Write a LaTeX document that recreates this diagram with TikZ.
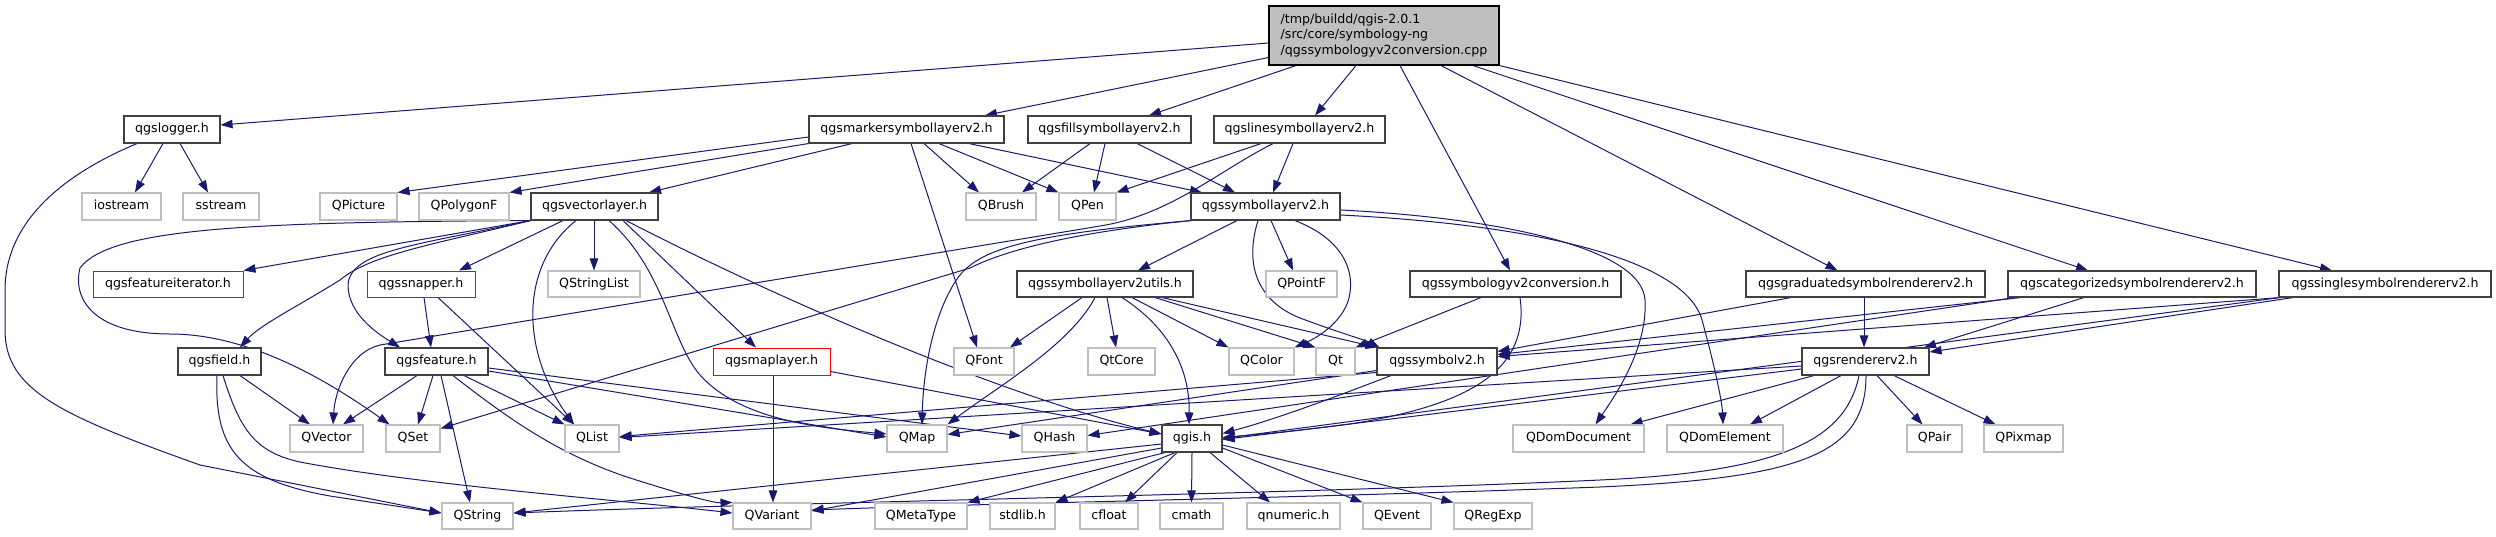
\documentclass[tikz,border=0pt]{standalone}
\usepackage{fontspec}
\setmainfont{DejaVu Sans}
\usetikzlibrary{arrows.meta}
\definecolor{edgec}{HTML}{191970}
\definecolor{docb}{HTML}{404040}
\definecolor{extb}{HTML}{BFBFBF}
\definecolor{rootf}{HTML}{BFBFBF}
\pgfdeclarelayer{bg}
\pgfsetlayers{bg,main}
\tikzset{
  bx/.style={draw=docb, line width=1.1pt, fill=white, inner sep=0pt, minimum height=27pt,
    text height=9.2pt, text depth=2.9pt, font=\fontsize{12.6}{15}\selectfont},
  ext/.style={bx, draw=extb},
  und/.style={bx, draw=red, line width=1pt},
  e/.style={draw=edgec, line width=1pt, -{Triangle[length=12pt,width=8.5pt]}},
}
\begin{document}
\begin{tikzpicture}[x=1pt,y=-1pt]
\useasboundingbox (0,0) rectangle (2496,536);
% row 0
\node[draw=black, line width=1.1pt, fill=rootf, inner sep=0pt, minimum width=230pt, minimum height=59pt,
  align=left, font=\fontsize{12.6}{15.5}\selectfont] (root) at (1384,35.5)
  {/tmp/buildd/qgis-2.0.1\\/src/core/symbology-ng\\/qgssymbologyv2conversion.cpp};
% row 1
\node[bx, minimum width=96pt] (logger) at (172,129.5) {qgslogger.h};
\node[bx, minimum width=195pt] (marker) at (906.5,129.5) {qgsmarkersymbollayerv2.h};
\node[bx, minimum width=163pt] (fill) at (1109.5,129.5) {qgsfillsymbollayerv2.h};
\node[bx, minimum width=171pt] (line) at (1299.5,129.5) {qgslinesymbollayerv2.h};
% row 2
\node[ext, minimum width=79pt] (iostream) at (121.5,206.5) {iostream};
\node[ext, minimum width=76pt] (sstream) at (221,206.5) {sstream};
\node[ext, minimum width=77pt] (QPicture) at (358.5,206.5) {QPicture};
\node[ext, minimum width=90pt] (QPolygonF) at (464,206.5) {QPolygonF};
\node[bx, minimum width=127pt] (vlayer) at (594.5,206.5) {qgsvectorlayer.h};
\node[ext, minimum width=70pt] (QBrush) at (1001,206.5) {QBrush};
\node[ext, minimum width=57pt] (QPen) at (1087.5,206.5) {QPen};
\node[bx, minimum width=149pt] (symlayer) at (1265.5,206.5) {qgssymbollayerv2.h};
% row 3
\node[und, minimum width=150pt, minimum height=26pt] (featit) at (168,284) {qgsfeatureiterator.h};
\node[und, minimum width=108pt, minimum height=26pt] (snapper) at (421,284) {qgssnapper.h};
\node[ext, minimum width=92pt, minimum height=26pt] (QStringList) at (594,284) {QStringList};
\node[bx, minimum width=176pt, minimum height=26pt] (utils) at (1105,284) {qgssymbollayerv2utils.h};
\node[ext, minimum width=71pt, minimum height=26pt] (QPointF) at (1301.5,284) {QPointF};
\node[bx, minimum width=211pt, minimum height=26pt] (convh) at (1515.5,284) {qgssymbologyv2conversion.h};
\node[bx, minimum width=239pt, minimum height=26pt] (grad) at (1865.5,284) {qgsgraduatedsymbolrendererv2.h};
\node[bx, minimum width=248pt, minimum height=26pt] (cat) at (2132,284) {qgscategorizedsymbolrendererv2.h};
\node[bx, minimum width=212pt, minimum height=26pt] (single) at (2385,284) {qgssinglesymbolrendererv2.h};
% row 4
\node[bx, minimum width=83pt] (field) at (219.5,361.5) {qgsfield.h};
\node[bx, minimum width=103pt] (feature) at (436.5,361.5) {qgsfeature.h};
\node[und, minimum width=117pt] (maplayer) at (771.5,361.5) {qgsmaplayer.h};
\node[ext, minimum width=60pt] (QFont) at (984,361.5) {QFont};
\node[ext, minimum width=67pt] (QtCore) at (1121.5,361.5) {QtCore};
\node[ext, minimum width=65pt] (QColor) at (1261.5,361.5) {QColor};
\node[ext, minimum width=39pt] (Qt) at (1335.5,361.5) {Qt};
\node[bx, minimum width=120pt] (symbolv2) at (1437,361.5) {qgssymbolv2.h};
\node[bx, minimum width=127pt] (renderer) at (1865.5,361.5) {qgsrendererv2.h};
% row 5
\node[ext, minimum width=73pt] (QVector) at (326.5,438.5) {QVector};
\node[ext, minimum width=54pt] (QSet) at (413,438.5) {QSet};
\node[ext, minimum width=54pt] (QList) at (592,438.5) {QList};
\node[ext, minimum width=60pt] (QMap) at (917,438.5) {QMap};
\node[ext, minimum width=65pt] (QHash) at (1054.5,438.5) {QHash};
\node[bx, minimum width=60pt] (qgis) at (1192,438.5) {qgis.h};
\node[ext, minimum width=131pt] (QDomDocument) at (1578.5,438.5) {QDomDocument};
\node[ext, minimum width=116pt] (QDomElement) at (1725,438.5) {QDomElement};
\node[ext, minimum width=55pt] (QPair) at (1934.5,438.5) {QPair};
\node[ext, minimum width=79pt] (QPixmap) at (2023.5,438.5) {QPixmap};
% row 6
\node[ext, minimum width=71pt, minimum height=26pt] (QString) at (477.5,516) {QString};
\node[ext, minimum width=78pt, minimum height=26pt] (QVariant) at (772,516) {QVariant};
\node[ext, minimum width=92pt, minimum height=26pt] (QMetaType) at (921,516) {QMetaType};
\node[ext, minimum width=65pt, minimum height=26pt] (stdlib) at (1022.5,516) {stdlib.h};
\node[ext, minimum width=58pt, minimum height=26pt] (cfloat) at (1109,516) {cfloat};
\node[ext, minimum width=63pt, minimum height=26pt] (cmath) at (1191.5,516) {cmath};
\node[ext, minimum width=93pt, minimum height=26pt] (qnumeric) at (1293.5,516) {qnumeric.h};
\node[ext, minimum width=68pt, minimum height=26pt] (QEvent) at (1397,516) {QEvent};
\node[ext, minimum width=78pt, minimum height=26pt] (QRegExp) at (1493,516) {QRegExp};

\begin{pgfonlayer}{bg}
% root
\draw[e] ([yshift=-7.5pt]root.west) -- ([yshift=4.5pt]logger.east);
\draw[e] ([yshift=-22pt]root.west) -- ([xshift=78.5pt]marker.north);
\draw[e] ([xshift=-88pt]root.south) -- ([xshift=39.5pt]fill.north);
\draw[e] ([xshift=-28pt]root.south) -- ([xshift=15.5pt]line.north);
\draw[e] ([xshift=16pt]root.south) -- ([xshift=-5.5pt]convh.north);
\draw[e] ([xshift=57pt]root.south) -- ([xshift=-28pt]grad.north);
\draw[e] ([xshift=89pt]root.south) -- ([xshift=-44pt]cat.north);
\draw[e] (root.south east) -- ([xshift=-53pt]single.north);
% logger
\draw[e] ([xshift=-9pt]logger.south) -- ([xshift=13.5pt]iostream.north);
\draw[e] ([xshift=8pt]logger.south) -- ([xshift=-13pt]sstream.north);
\draw[e] ([xshift=-35pt]logger.south) .. controls (50,180) and (5,230) .. (5,290) -- (5,330)
  .. controls (5,390) and (60,415) .. (200,465) -- ([yshift=3pt]QString.west);
% marker
\draw[e] ([yshift=-7.5pt]marker.west) -- (QPicture.north east);
\draw[e] (marker.south west) -- (QPolygonF.north east);
\draw[e] ([xshift=-54.5pt]marker.south) -- ([xshift=54.5pt]vlayer.north);
\draw[e] ([xshift=4.5pt]marker.south) -- ([xshift=-7pt]QFont.north);
\draw[e] ([xshift=17.5pt]marker.south) -- ([xshift=-22pt]QBrush.north);
\draw[e] ([xshift=32.5pt]marker.south) -- (QPen.north west);
\draw[e] ([xshift=62.5pt]marker.south) -- ([xshift=-63.5pt]symlayer.north);
% fill
\draw[e] ([xshift=-19.5pt]fill.south) -- ([xshift=21pt]QBrush.north);
\draw[e] ([xshift=-4.5pt]fill.south) -- ([xshift=6.5pt]QPen.north);
\draw[e] ([xshift=27.5pt]fill.south) -- ([xshift=-30.5pt]symlayer.north);
% line
\draw[e] ([xshift=-38.5pt]line.south) -- (QPen.north east);
\draw[e] ([xshift=-26.5pt]line.south) .. controls (1220,170) and (1170,215) .. (1100,226) -- (380,345)
  .. controls (350,352) and (335,390) .. ([xshift=6.5pt]QVector.north);
\draw[e] ([xshift=-6.5pt]line.south) -- ([xshift=7.5pt]symlayer.north);
% vlayer
\draw[e] (vlayer.south west) -- (featit.north east);
\draw[e] (vlayer.south west) .. controls (250,222) and (110,228) .. (80,268)
  .. controls (72,300) and (95,334) .. (170,334) .. controls (245,334) and (320,375) .. ([xshift=4pt]QSet.north west);
\draw[e] (vlayer.south west) .. controls (430,245) and (370,255) .. (340,280)
  .. controls (300,305) and (260,325) .. ([xshift=20.5pt]field.north);
\draw[e] (vlayer.south west) .. controls (420,245) and (350,250) .. (348,285)
  .. controls (348,315) and (380,335) .. ([xshift=-36.5pt]feature.north);
\draw[e] ([xshift=-31.5pt]vlayer.south) -- ([xshift=38pt]snapper.north);
\draw[e] ([xshift=-18.5pt]vlayer.south) .. controls (520,265) and (520,350) .. ([xshift=-18pt]QList.north);
\draw[e] ([xshift=-0.5pt]vlayer.south) -- (QStringList.north);
\draw[e] ([xshift=14.5pt]vlayer.south) .. controls (665,270) and (670,340) .. (700,375)
  .. controls (740,420) and (820,428) .. ([yshift=4.5pt]QMap.west);
\draw[e] ([xshift=28.5pt]vlayer.south) -- ([xshift=-15.5pt]maplayer.north);
\draw[e] ([xshift=31.5pt]vlayer.south) .. controls (780,300) and (1000,395) .. ([yshift=4.5pt]qgis.west);
% snapper
\draw[e] ([xshift=3pt]snapper.south) -- ([xshift=-5.5pt]feature.north);
\draw[e] ([xshift=17pt]snapper.south) -- ([xshift=-18pt]QList.north);
% field
\draw[e] ([xshift=20.5pt]field.south) -- ([xshift=-16.5pt]QVector.north);
\draw[e] ([xshift=-2.5pt]field.south) .. controls (214,450) and (240,480) .. (330,496) -- ([yshift=3pt]QString.west);
\draw[e] ([xshift=3.5pt]field.south) .. controls (240,430) and (255,452) .. (300,462)
  .. controls (420,485) and (620,500) .. ([yshift=3pt]QVariant.west);
% feature
\draw[e] ([xshift=-19.5pt]feature.south) -- ([xshift=16.5pt]QVector.north);
\draw[e] ([xshift=-3.5pt]feature.south) -- ([xshift=5pt]QSet.north);
\draw[e] ([xshift=4.5pt]feature.south) -- ([xshift=-7.5pt]QString.north);
\draw[e] ([xshift=16.5pt]feature.south) .. controls (510,420) and (560,455) .. (630,478)
  .. controls (690,497) and (715,503) .. (QVariant.north west);
\draw[e] ([xshift=27.5pt]feature.south) -- (QList.north west);
\draw[e] ([yshift=-6.5pt]feature.east) -- ([yshift=2.5pt]QHash.west);
\draw[e] ([yshift=-9.5pt]feature.east) -- ([yshift=1.5pt]QMap.west);
% maplayer
\draw[e] ([xshift=1.5pt]maplayer.south) -- ([xshift=1pt]QVariant.north);
\draw[e] ([yshift=-10pt]maplayer.east) -- ([yshift=4.5pt]qgis.west);
% symlayer
\draw[e] (symlayer.south west) .. controls (1080,232) and (1010,248) .. (970,268) -- ([yshift=10pt]QSet.east);
\draw[e] ([xshift=2pt]symlayer.south west) .. controls (1020,235) and (975,250) .. (955,282)
  .. controls (930,322) and (923,380) .. ([xshift=5pt]QMap.north);
\draw[e] ([xshift=-28.5pt]symlayer.south) -- ([xshift=33pt]utils.north);
\draw[e] ([xshift=-7.5pt]symlayer.south) .. controls (1245,262) and (1255,300) .. (1300,318)
  .. controls (1340,333) and (1365,340) .. ([xshift=3pt]symbolv2.north west);
\draw[e] ([xshift=5.5pt]symlayer.south) -- ([xshift=-8.5pt]QPointF.north);
\draw[e] ([xshift=29.5pt]symlayer.south) .. controls (1340,238) and (1356,268) .. (1349,298)
  .. controls (1342,325) and (1312,340) .. (QColor.north east);
\draw[e] ([yshift=-3.5pt]symlayer.east) .. controls (1500,218) and (1642,248) .. (1645,300)
  .. controls (1648,350) and (1612,400) .. ([xshift=17pt]QDomDocument.north);
\draw[e] ([yshift=-8.5pt]symlayer.east) .. controls (1540,225) and (1685,260) .. (1702,320)
  .. controls (1713,360) and (1722,400) .. ([xshift=-2pt]QDomElement.north);
% utils
\draw[e] ([xshift=-23pt]utils.south) -- ([xshift=26pt]QFont.north);
\draw[e] ([xshift=-10pt]utils.south) .. controls (1070,345) and (1000,385) .. (QMap.north east);
\draw[e] ([xshift=2pt]utils.south) -- ([xshift=-5.5pt]QtCore.north);
\draw[e] ([xshift=17pt]utils.south) .. controls (1165,325) and (1190,365) .. ([xshift=-3pt]qgis.north);
\draw[e] ([xshift=27pt]utils.south) -- (QColor.north west);
\draw[e] ([xshift=50pt]utils.south) -- (Qt.north west);
\draw[e] ([xshift=57pt]utils.south) -- ([xshift=1pt]symbolv2.north west);
% convh
\draw[e] ([xshift=-34.5pt]convh.south) -- (Qt.north east);
\draw[e] ([xshift=4.5pt]convh.south) .. controls (1530,370) and (1470,405) .. (1350,424)
  .. controls (1290,432) and (1250,435) .. ([yshift=1pt]qgis.east);
% grad
\draw[e] ([xshift=-74.5pt]grad.south) -- ([yshift=10pt]symbolv2.east);
\draw[e] ([xshift=-1.5pt]grad.south) -- ([xshift=-1.5pt]renderer.north);
% cat
\draw[e] ([xshift=-111pt]cat.south) -- ([yshift=7pt]symbolv2.east);
\draw[e] ([xshift=-117pt]cat.south) -- ([yshift=3pt]QHash.east);
\draw[e] ([xshift=-48pt]cat.south) -- ([xshift=58.5pt]renderer.north);
% single
\draw[e] ([xshift=-105pt]single.south) -- ([yshift=5pt]symbolv2.east);
\draw[e] ([xshift=-105pt]single.south) -- (qgis.east);
\draw[e] ([xshift=-92pt]single.south) -- ([yshift=9.5pt]renderer.east);
% symbolv2
\draw[e] ([yshift=-11pt]symbolv2.west) -- ([yshift=2pt]QList.east);
\draw[e] ([yshift=-9pt]symbolv2.west) -- ([yshift=4pt]QMap.east);
\draw[e] ([xshift=-46pt]symbolv2.south) .. controls (1340,395) and (1280,418) .. ([yshift=5pt]qgis.east);
% renderer
\draw[e] ([yshift=-4.5pt]renderer.west) -- ([yshift=1pt]QList.east);
\draw[e] ([yshift=-7.5pt]renderer.west) -- ([yshift=-1pt]qgis.east);
\draw[e] ([xshift=-51.5pt]renderer.south) -- ([xshift=52pt]QDomDocument.north);
\draw[e] ([xshift=-24.5pt]renderer.south) -- ([xshift=25pt]QDomElement.north);
\draw[e] ([xshift=-6.5pt]renderer.south) .. controls (1845,445) and (1770,472) .. (1600,480)
  .. controls (1300,494) and (800,502) .. ([yshift=3pt]QString.east);
\draw[e] ([xshift=0.5pt]renderer.south) .. controls (1866,455) and (1800,478) .. (1600,487)
  .. controls (1300,498) and (1000,503) .. ([yshift=6pt]QVariant.east);
\draw[e] ([xshift=11.5pt]renderer.south) -- ([xshift=-12pt]QPair.north);
\draw[e] ([xshift=28.5pt]renderer.south) -- ([xshift=-28pt]QPixmap.north);
% qgis
\draw[e] ([yshift=-5.5pt]qgis.west) -- ([yshift=3pt]QString.east);
\draw[e] ([yshift=-9.5pt]qgis.west) -- ([yshift=5pt]QVariant.east);
\draw[e] ([xshift=-27pt]qgis.south) -- (QMetaType.north east);
\draw[e] ([xshift=-17pt]qgis.south) -- (stdlib.north east);
\draw[e] ([xshift=-15pt]qgis.south) -- ([xshift=16pt]cfloat.north);
\draw[e] (qgis.south) -- (cmath.north);
\draw[e] ([xshift=18pt]qgis.south) -- ([xshift=-23.5pt]qnumeric.north);
\draw[e] ([yshift=-9.5pt]qgis.east) -- (QEvent.north west);
\draw[e] ([yshift=-6.5pt]qgis.east) -- (QRegExp.north west);
\end{pgfonlayer}
\end{tikzpicture}
\end{document}
